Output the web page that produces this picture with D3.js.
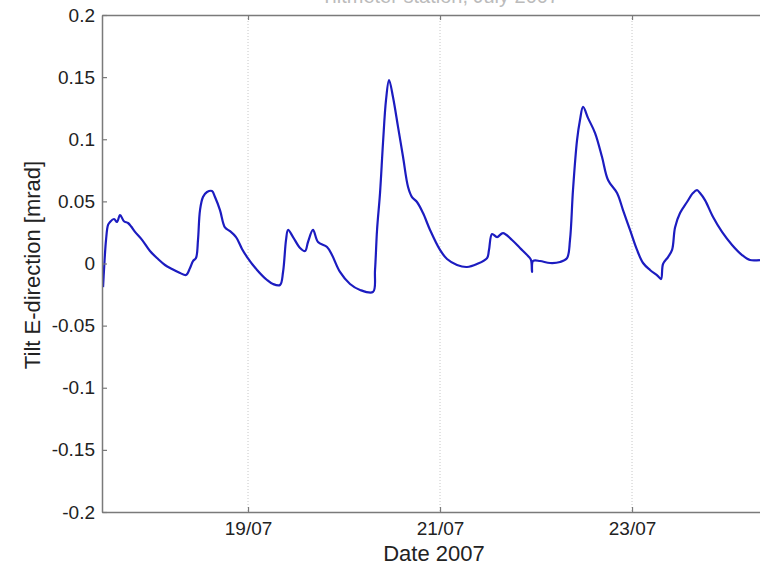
<!DOCTYPE html>
<html>
<head>
<meta charset="utf-8">
<script src="https://cdn.jsdelivr.net/npm/d3@7/dist/d3.min.js"></script>
<style>
  html, body { margin: 0; padding: 0; background: #fff; }
  svg { display: block; }
  text { font-family: "Liberation Sans", Arial, Helvetica, sans-serif; fill: #222; }
</style>
</head>
<body>
<svg id="chart" width="760" height="568"></svg>
<script>
// Time in days of July 2007 (decimal), tilt in mrad
const days = [17.490,17.500,17.521,17.542,17.5625,17.604,17.635,17.667,17.708,17.750,17.781,17.823,17.896,17.979,18.063,18.135,18.208,18.292,18.354,18.396,18.427,18.458,18.479,18.500,18.531,18.573,18.625,18.656,18.708,18.760,18.8125,18.875,18.9375,18.990,19.094,19.198,19.260,19.333,19.365,19.396,19.417,19.469,19.542,19.594,19.625,19.677,19.729,19.823,19.875,19.958,20.0625,20.167,20.302,20.323,20.344,20.375,20.406,20.4375,20.469,20.510,20.5625,20.615,20.667,20.708,20.760,20.823,20.896,21.000,21.073,21.177,21.281,21.385,21.490,21.510,21.542,21.594,21.656,21.750,21.833,21.917,21.948,21.958,21.969,22.042,22.146,22.250,22.323,22.354,22.385,22.427,22.458,22.490,22.542,22.615,22.6875,22.750,22.844,22.906,22.979,23.052,23.115,23.1875,23.270,23.302,23.323,23.375,23.417,23.448,23.500,23.573,23.635,23.677,23.708,23.760,23.844,23.9375,24.042,24.146,24.229,24.333];
const tilt = [-0.019,-0.005,0.019,0.031,0.0334,0.0358,0.0334,0.039,0.034,0.0326,0.030,0.0254,0.019,0.010,0.0036,-0.0012,-0.0044,-0.0076,-0.0093,-0.0036,0.002,0.0044,0.019,0.043,0.0535,0.0575,0.0583,0.0535,0.043,0.029,0.026,0.0213,0.0117,0.0052,-0.0052,-0.0133,-0.0165,-0.0173,-0.0068,0.019,0.027,0.0213,0.0125,0.010,0.0173,0.027,0.0173,0.0133,0.0068,-0.0068,-0.0165,-0.0213,-0.0229,-0.0052,0.027,0.0567,0.097,0.1316,0.1477,0.134,0.110,0.0857,0.0616,0.0535,0.0495,0.0406,0.027,0.0109,0.0036,-0.0012,-0.0028,-0.0004,0.0044,0.0109,0.0237,0.0213,0.0245,0.0189,0.0125,0.006,0.0028,-0.0068,0.002,0.002,0.0004,0.0012,0.0044,0.019,0.059,0.099,0.1155,0.126,0.117,0.105,0.0857,0.0672,0.0567,0.043,0.027,0.0109,0.0004,-0.0052,-0.0101,-0.0125,-0.0004,0.0052,0.0109,0.029,0.0406,0.0495,0.0567,0.059,0.0567,0.051,0.0374,0.0254,0.0149,0.0068,0.0028,0.0028];
const xTickDays = [19, 21, 23];
const xTickLabels = ["19/07", "21/07", "23/07"];
const yTicks = [-0.2, -0.15, -0.1, -0.05, 0, 0.05, 0.1, 0.15, 0.2];
const yTickLabels = ["-0.2", "-0.15", "-0.1", "-0.05", "0", "0.05", "0.1", "0.15", "0.2"];
const xLabel = "Date 2007";
const yLabel = "Tilt E-direction [mrad]";
const titleText = "Tiltmeter station, July 2007";
const xDomain = [17.479, 24.333];
const yDomain = [-0.2, 0.2];

const svg = d3.select("#chart");
const L = 102, R = 760, T = 15, B = 512;
const x = d3.scaleLinear().domain(xDomain).range([L, R]);
const y = d3.scaleLinear().domain(yDomain).range([B, T]);
const axisColor = "#7a7a7a";

// title, cut off at the top edge as in the reference
svg.append("text").attr("x", 440).attr("y", 3).attr("text-anchor", "middle")
  .style("font-size", "20px").style("fill", "#bbb").text(titleText);

// grid (vertical dotted)
svg.append("g").selectAll("line").data(xTickDays).join("line")
  .attr("x1", d => x(d)).attr("x2", d => x(d))
  .attr("y1", T).attr("y2", B)
  .attr("stroke", "#c8c8c8").attr("stroke-width", 1)
  .attr("stroke-dasharray", "1,2");

// data line
const line = d3.line().x((d, i) => x(days[i])).y(d => y(d)).curve(d3.curveCatmullRom.alpha(0.5));
svg.append("path").datum(tilt)
  .attr("d", line)
  .attr("fill", "none")
  .attr("stroke", "#1c1cc0")
  .attr("stroke-width", 2.2)
  .attr("stroke-linejoin", "round");

// axes (inward ticks)
const fmtX = d => xTickLabels[xTickDays.indexOf(d)];
const fmtY = d => yTickLabels[yTicks.indexOf(d)];

const gx = svg.append("g").attr("transform", `translate(0,${B})`)
  .call(d3.axisBottom(x).tickValues(xTickDays).tickFormat(fmtX).tickSizeInner(-5).tickSizeOuter(0).tickPadding(10));
const gxTop = svg.append("g").attr("transform", `translate(0,${T})`)
  .call(d3.axisTop(x).tickValues(xTickDays).tickFormat("").tickSizeInner(-5).tickSizeOuter(0));
const gy = svg.append("g").attr("transform", `translate(${L},0)`)
  .call(d3.axisLeft(y).tickValues(yTicks).tickFormat(fmtY).tickSizeInner(-5).tickSizeOuter(0).tickPadding(7));

[gx, gxTop, gy].forEach(g => {
  g.select(".domain").attr("stroke", axisColor).attr("stroke-width", 1.5);
  g.selectAll(".tick line").attr("stroke", axisColor).attr("stroke-width", 1.2);
  g.selectAll(".tick text").attr("fill", "#222").style("font-size", "19px")
    .style("font-family", '"Liberation Sans", Arial, sans-serif');
});

// labels
svg.append("text").attr("x", 434).attr("y", 561).attr("text-anchor", "middle")
  .style("font-size", "22px").text(xLabel);
svg.append("text").attr("transform", "translate(40,265) rotate(-90)")
  .attr("text-anchor", "middle").style("font-size", "22px").text(yLabel);
</script>
</body>
</html>
